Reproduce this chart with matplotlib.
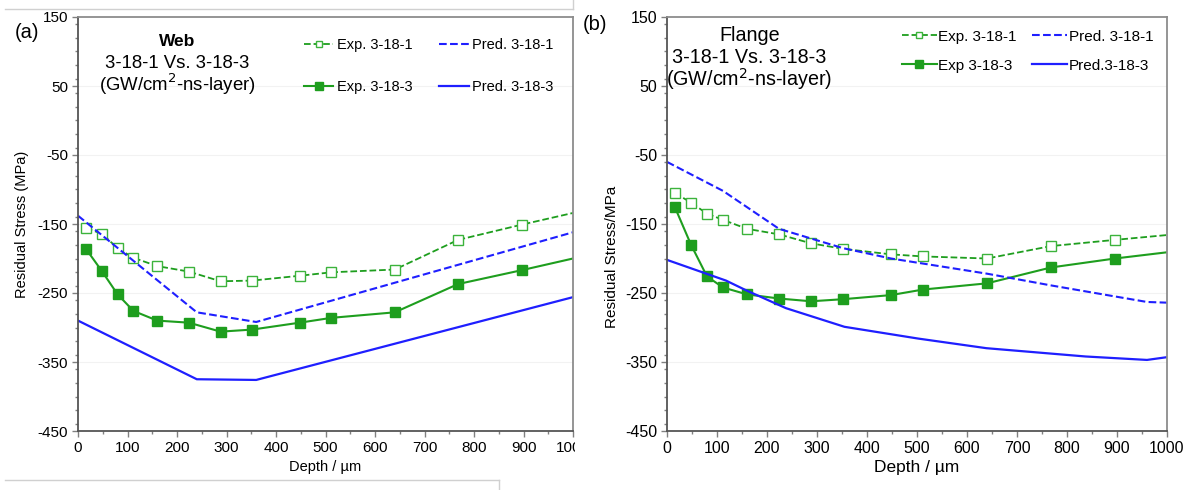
import matplotlib
matplotlib.use("Agg")
import matplotlib.pyplot as plt
from matplotlib.ticker import MultipleLocator
from matplotlib.lines import Line2D
from matplotlib.patches import Rectangle

plt.rcParams['font.family'] = ['Liberation Sans', 'DejaVu Sans']
plt.rcParams['axes.unicode_minus'] = False

# depths of measured points (um)
depth_exp = [16, 48, 80, 112, 160, 224, 288, 352, 448, 512, 640, 768, 896, 1000]

# --- Web (a) ---
web_exp1 = [-156, -164, -185, -199, -211, -219, -233, -232, -225, -220, -216, -173, -151, -134]
web_exp3 = [-186, -218, -252, -276, -290, -293, -306, -303, -293, -286, -278, -237, -217, -200]
web_pred1_x = [0, 240, 360, 1000]
web_pred1 = [-138, -278, -292, -162]
web_pred3_x = [0, 240, 360, 1000]
web_pred3 = [-290, -375, -376, -256]

# --- Flange (b) ---
fl_exp1 = [-105, -119, -135, -144, -157, -165, -178, -186, -194, -197, -200, -182, -173, -166]
fl_exp3 = [-126, -180, -226, -242, -252, -258, -262, -259, -253, -245, -236, -213, -200, -191]
fl_pred1_x = [0, 112, 224, 352, 448, 640, 768, 896, 960, 1000]
fl_pred1 = [-60, -102, -157, -185, -200, -222, -239, -255, -263, -264]
fl_pred3_x = [0, 118, 158, 238, 355, 502, 639, 837, 960, 1000]
fl_pred3 = [-202, -232, -246, -272, -299, -316, -330, -342, -347, -343]

GREEN = '#1e9e1e'
LGREEN = '#3cb33c'
BLUE = '#1f1fff'

fig = plt.figure(figsize=(11.88, 4.90), dpi=100)
axL = fig.add_axes([78/1188, 59/490, 495/1188, 414/490])
axR = fig.add_axes([667/1188, 59/490, 500/1188, 414/490])
axL.set_zorder(0)
axR.set_zorder(2)

# white patch hides the clipped end of the left panel (like the pasted figure)
fig.add_artist(Rectangle((575/1188, 0), 1 - 575/1188, 1, transform=fig.transFigure,
                         facecolor='white', edgecolor='none', zorder=1))
# faint borders of the pasted image
fig.add_artist(Line2D([5/1188, 573/1188], [1 - 9/490, 1 - 9/490], transform=fig.transFigure,
                      color='#d0d0d0', lw=1, zorder=1.5))
fig.add_artist(Line2D([573/1188, 573/1188], [1, 1 - 9/490], transform=fig.transFigure,
                      color='#d0d0d0', lw=1, zorder=1.5))
fig.add_artist(Line2D([5/1188, 499/1188], [10/490, 10/490], transform=fig.transFigure,
                      color='#d0d0d0', lw=1, zorder=1.5))
fig.add_artist(Line2D([499/1188, 499/1188], [10/490, 0], transform=fig.transFigure,
                      color='#d0d0d0', lw=1, zorder=1.5))


def style(ax, fs):
    ax.set_xlim(0, 1000)
    ax.set_ylim(-450, 150)
    ax.xaxis.set_major_locator(MultipleLocator(100))
    ax.xaxis.set_minor_locator(MultipleLocator(50))
    ax.set_yticks([150, 50, -50, -150, -250, -350, -450])
    ax.yaxis.set_minor_locator(MultipleLocator(20))
    ax.tick_params(which='major', direction='out', length=4, width=1, color='#808080',
                   labelsize=fs, pad=3)
    ax.tick_params(which='minor', direction='out', length=2.5, width=1, color='#808080')
    for s in ['top', 'right']:
        ax.spines[s].set_color('#8c8c8c')
        ax.spines[s].set_linewidth(1.3)
    for s in ['left', 'bottom']:
        ax.spines[s].set_color('#555555')
        ax.spines[s].set_linewidth(1.3)
    for v in [50, -50, -150, -250, -350]:
        ax.axhline(v, color='#f2f2f2', lw=0.8, zorder=0)


# ---------- left: Web ----------
axL.plot(depth_exp, web_exp1, '--', color=GREEN, lw=1.3, marker='s', ms=6.5, markevery=range(13),
         mfc='white', mec=LGREEN, mew=1.0, label='Exp. 3-18-1')
axL.plot(depth_exp, web_exp3, '-', color=GREEN, lw=1.5, marker='s', ms=7, markevery=range(13),
         mfc=GREEN, mec=GREEN, label='Exp. 3-18-3')
axL.plot(web_pred1_x, web_pred1, '--', color=BLUE, lw=1.5, label='Pred. 3-18-1')
axL.plot(web_pred3_x, web_pred3, '-', color=BLUE, lw=1.6, label='Pred. 3-18-3')
style(axL, 11)
axL.set_xlabel('Depth / µm', fontsize=10.5, labelpad=4)
axL.set_ylabel('Residual Stress (MPa)', fontsize=10.5, labelpad=6)
axL.legend(ncol=2, loc='upper left', bbox_to_anchor=(0.43, 0.98), frameon=False, fontsize=10.5,
           labelspacing=1.9, handlelength=2.0, handletextpad=0.25, columnspacing=1.85,
           markerscale=0.75)

axL.text(0.2, 0.942, 'Web', transform=axL.transAxes, ha='center', va='center',
         fontsize=12.5, fontweight='bold')
axL.text(0.2, 0.888, '3-18-1 Vs. 3-18-3', transform=axL.transAxes, ha='center', va='center',
         fontsize=13.4)
axL.text(0.2, 0.837, '(GW/cm$^{2}$-ns-layer)', transform=axL.transAxes, ha='center', va='center',
         fontsize=13.4)
fig.text(15/1188, 1 - 33/490, '(a)', fontsize=14.5, va='center', ha='left')

# ---------- right: Flange ----------
axR.plot(depth_exp, fl_exp1, '--', color=GREEN, lw=1.3, marker='s', ms=6.5, markevery=range(13),
         mfc='white', mec=LGREEN, mew=1.0, label='Exp. 3-18-1')
axR.plot(depth_exp, fl_exp3, '-', color=GREEN, lw=1.5, marker='s', ms=7, markevery=range(13),
         mfc=GREEN, mec=GREEN, label='Exp 3-18-3')
axR.plot(fl_pred1_x, fl_pred1, '--', color=BLUE, lw=1.5, label='Pred. 3-18-1')
axR.plot(fl_pred3_x, fl_pred3, '-', color=BLUE, lw=1.6, label='Pred.3-18-3')
style(axR, 11.5)
axR.set_xlabel('Depth / µm', fontsize=12.5, labelpad=3)
axR.set_ylabel('Residual Stress/MPa', fontsize=11, labelpad=5)
axR.yaxis.set_label_coords(-0.095, 0.42)
axR.legend(ncol=2, loc='upper left', bbox_to_anchor=(0.442, 1.003), frameon=False, fontsize=11,
           labelspacing=1.0, handlelength=2.3, handletextpad=0.1, columnspacing=1.0,
           markerscale=0.75)

axR.text(0.165, 0.956, 'Flange', transform=axR.transAxes, ha='center', va='center', fontsize=14.2)
axR.text(0.165, 0.903, '3-18-1 Vs. 3-18-3', transform=axR.transAxes, ha='center', va='center',
         fontsize=14.2)
axR.text(0.165, 0.849, '(GW/cm$^{2}$-ns-layer)', transform=axR.transAxes, ha='center', va='center',
         fontsize=14.2)
fig.text(583/1188, 1 - 25/490, '(b)', fontsize=14.5, va='center', ha='left', zorder=3)

fig.savefig('out.png', dpi=100)
